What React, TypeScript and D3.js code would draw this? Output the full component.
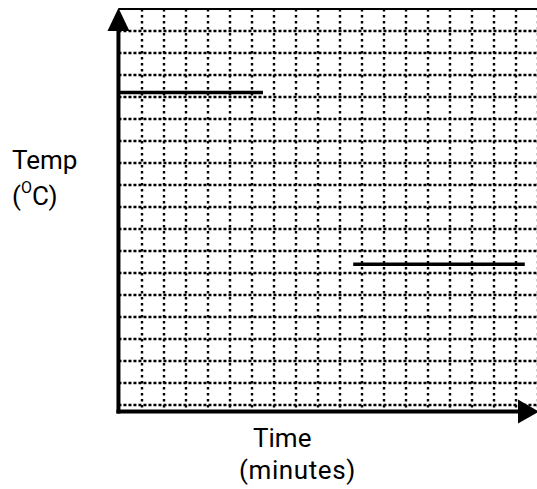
import React from "react";
import * as d3 from "d3";

// Grid extent in grid units
const xTicks: number[] = d3.range(0, 20); // vertical grid lines (units of time)
const yTicks: number[] = d3.range(0, 19); // horizontal grid lines (units of temp)

// Horizontal line segments: [xStart, xEnd, y]
const segStartX: number[] = [-0.07, 10.6];
const segEndX: number[] = [6.5, 18.4];
const segY: number[] = [14.2, 6.4];

const yLabelLines: string[] = ["Temp", "C)"];
const xLabelLines: string[] = ["Time", "(minutes)"];

const W = 537;
const H = 489;

export default function App() {
  const x = d3.scaleLinear().domain([0, 19]).range([120, 538]);
  const y = d3.scaleLinear().domain([0, 18]).range([405, 9]);
  const axisX = x(-0.07);
  const axisY = y(-0.3);
  const font = "Roboto, 'Liberation Sans', sans-serif";
  const fs = 26;

  const upArrow = d3.path();
  upArrow.moveTo(axisX, 8);
  upArrow.lineTo(axisX - 11, 31);
  upArrow.lineTo(axisX + 11, 31);
  upArrow.closePath();

  const rightArrow = d3.path();
  rightArrow.moveTo(539, axisY);
  rightArrow.lineTo(518, axisY - 12);
  rightArrow.lineTo(518, axisY + 12);
  rightArrow.closePath();

  return (
    <div style={{ position: "absolute", left: 0, top: 0 }}>
      <svg width={W} height={H} style={{ display: "block", background: "#fff" }}>
        {/* vertical dotted grid */}
        {xTicks.filter((t) => t > 0).map((t) => (
          <line
            key={"vx" + t}
            x1={x(t)}
            x2={x(t)}
            y1={y(18)}
            y2={axisY}
            stroke="#000"
            strokeWidth={2.4}
            strokeDasharray="2.5,3.5"
          />
        ))}
        {/* horizontal dotted grid */}
        {yTicks.filter((t) => t < 18).map((t) => (
          <line
            key={"hy" + t}
            x1={axisX}
            x2={W}
            y1={y(t)}
            y2={y(t)}
            stroke="#000"
            strokeWidth={2.4}
            strokeDasharray="3,2"
          />
        ))}
        {/* top border */}
        <line x1={axisX} x2={W} y1={y(18)} y2={y(18)} stroke="#000" strokeWidth={2.2} />
        {/* data segments */}
        {segY.map((v, i) => (
          <line
            key={"seg" + i}
            x1={x(segStartX[i])}
            x2={x(segEndX[i])}
            y1={y(v)}
            y2={y(v)}
            stroke="#000"
            strokeWidth={3.5}
          />
        ))}
        {/* axes */}
        <line x1={axisX} x2={axisX} y1={25} y2={axisY + 2} stroke="#000" strokeWidth={4} />
        <line x1={axisX - 2} x2={522} y1={axisY} y2={axisY} stroke="#000" strokeWidth={4} />
        <path d={upArrow.toString()} fill="#000" />
        <path d={rightArrow.toString()} fill="#000" />
        {/* y label */}
        <text x={12} y={169} fontFamily={font} fontSize={fs} fill="#000">
          {yLabelLines[0]}
        </text>
        <text x={12} y={205} fontFamily={font} fontSize={fs} fill="#000">
          (
          <tspan fontSize={16} dy={-12}>O</tspan>
          <tspan dy={12}>{yLabelLines[1]}</tspan>
        </text>
        {/* x label */}
        <text x={253} y={447} fontFamily={font} fontSize={fs} fill="#000">
          {xLabelLines[0]}
        </text>
        <text x={239} y={479} fontFamily={font} fontSize={fs} fill="#000" letterSpacing={0.6}>
          {xLabelLines[1]}
        </text>
      </svg>
    </div>
  );
}
